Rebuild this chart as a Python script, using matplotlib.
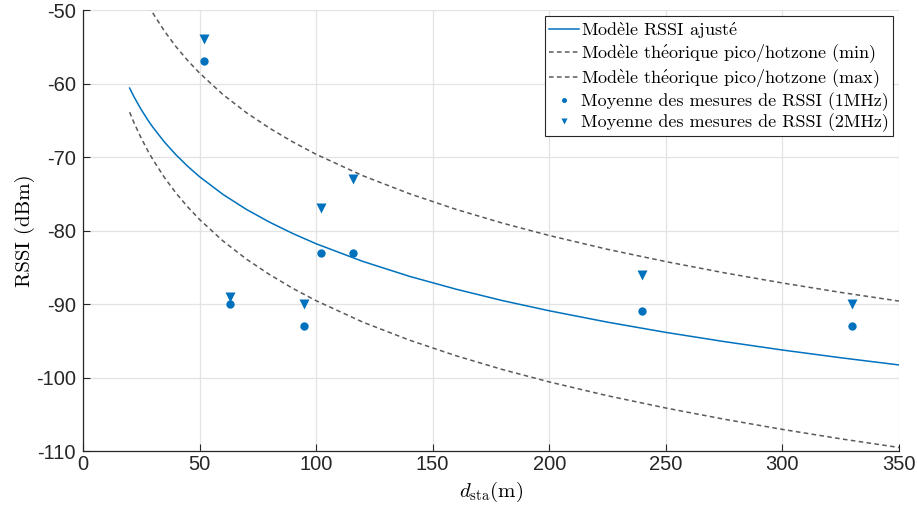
import matplotlib
matplotlib.use('Agg')
import matplotlib.pyplot as plt

# distances (m) of the measurement points
d_mes = [52, 63, 95, 102, 116, 240, 330]
rssi_1mhz = [-57, -90, -93, -83, -83, -91, -93]
rssi_2mhz = [-54, -89, -90, -77, -73, -86, -90]

# curves
d_curve = [20, 22, 25, 28, 30, 35, 40, 45, 50, 60, 70, 80, 90, 100, 120,
           140, 160, 180, 200, 225, 250, 275, 300, 325, 350]
rssi_fit = [-60.62, -61.88, -63.56, -65.05, -65.96, -67.99, -69.74, -71.29,
            -72.68, -75.08, -77.11, -78.86, -80.41, -81.80, -84.20, -86.23,
            -87.98, -89.54, -90.92, -92.47, -93.86, -95.11, -96.26, -97.31,
            -98.29]
rssi_min = [-43.98, -45.50, -47.53, -49.34, -50.44, -52.90, -55.03, -56.90,
            -58.58, -61.49, -63.95, -66.07, -67.95, -69.63, -72.54, -74.99,
            -77.12, -79.00, -80.68, -82.56, -84.23, -85.75, -87.14, -88.42,
            -89.60]
rssi_max = [-63.90, -65.42, -67.45, -69.26, -70.36, -72.82, -74.95, -76.82,
            -78.50, -81.41, -83.87, -85.99, -87.87, -89.55, -92.46, -94.91,
            -97.04, -98.92, -100.60, -102.48, -104.15, -105.67, -107.06,
            -108.34, -109.52]

# accents through mathtext so cmr10 keeps the LaTeX look
E_GRAVE = r'$\grave{\mathrm{e}}$'
E_ACUTE = r'$\acute{\mathrm{e}}$'
labels = ['Mod' + E_GRAVE + 'le RSSI ajust' + E_ACUTE,
          'Mod' + E_GRAVE + 'le th' + E_ACUTE + 'orique pico/hotzone (min)',
          'Mod' + E_GRAVE + 'le th' + E_ACUTE + 'orique pico/hotzone (max)',
          'Moyenne des mesures de RSSI (1MHz)',
          'Moyenne des mesures de RSSI (2MHz)']

plt.rcParams['mathtext.fontset'] = 'cm'
plt.rcParams['axes.unicode_minus'] = False
plt.rcParams['axes.formatter.use_mathtext'] = False

BLUE = '#0072BD'
GREY = '#5a5a5a'
serif = ['cmr10', 'DejaVu Serif']

fig = plt.figure(figsize=(9.17, 5.11), dpi=100)
ax = fig.add_axes([0.0905, 0.1174, 0.8898, 0.863])

ax.plot(d_curve, rssi_fit, color=BLUE, lw=1.1, label=labels[0])
ax.plot(d_curve, rssi_min, color=GREY, lw=1.1, ls=(0, (3, 2.2)), label=labels[1])
ax.plot(d_curve, rssi_max, color=GREY, lw=1.1, ls=(0, (3, 2.2)), label=labels[2])
ax.plot(d_mes, rssi_1mhz, 'o', color=BLUE, ms=6, mec='none', label=labels[3])
ax.plot(d_mes, rssi_2mhz, 'v', color=BLUE, ms=7, mec='none', label=labels[4])

ax.set_xlim(0, 350)
ax.set_ylim(-110, -50)
ax.set_xticks(range(0, 351, 50))
ax.set_yticks(range(-110, -49, 10))

ax.grid(True, color='#e3e3e3', lw=0.9)
ax.set_axisbelow(True)
for side in ['top', 'right']:
    ax.spines[side].set_visible(False)
for side in ['left', 'bottom']:
    ax.spines[side].set_color('#262626')
    ax.spines[side].set_linewidth(0.9)
ax.tick_params(direction='in', length=5, width=0.8, color='#262626',
               labelsize=14.5, labelcolor='#262626')
ax.tick_params(axis='y', pad=5)
ax.tick_params(axis='x', pad=3)
for t in ax.get_xticklabels() + ax.get_yticklabels():
    t.set_family('Liberation Sans')

ax.set_xlabel(r'$d_{\rm sta}$(m)', fontsize=15, family=serif, labelpad=4)
ax.set_ylabel('RSSI (dBm)', fontsize=15, family=serif, labelpad=1)

leg = ax.legend(loc='upper right', prop={'family': serif, 'size': 13},
                frameon=True, fancybox=False, framealpha=1, edgecolor='#262626',
                borderpad=0.2, labelspacing=0.12, handlelength=1.7,
                handletextpad=0.1, borderaxespad=0.35, markerscale=0.6)
leg.get_frame().set_linewidth(0.8)

fig.savefig('out.png', dpi=100)
